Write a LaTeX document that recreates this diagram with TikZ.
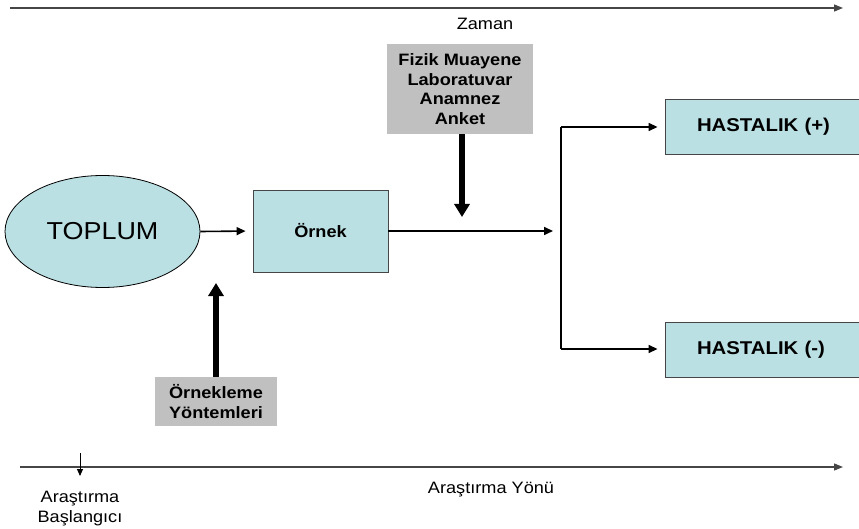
\documentclass[tikz,border=0pt]{standalone}
\usepackage{fontspec}
\setmainfont{Liberation Sans}[FakeStretch=1.1]
\usetikzlibrary{arrows.meta,shapes.geometric}
\definecolor{boxcyan}{RGB}{186,224,227}
\definecolor{boxgray}{RGB}{192,192,192}
\definecolor{edgegray}{RGB}{70,70,70}
\tikzset{
  cyanbox/.style={draw=edgegray, line width=0.9pt, fill=boxcyan, rectangle, inner sep=0pt},
  graybox/.style={fill=boxgray, rectangle, inner sep=0pt, align=center,
    font=\fontsize{16.5}{19.5}\selectfont\bfseries},
  smalltext/.style={font=\fontsize{16.5}{20}\selectfont, align=center},
  thinarrow/.style={line width=1.6pt, -{Triangle[length=9pt,width=8pt]}},
  thickarrow/.style={line width=5.5pt, -{Triangle[length=13pt,width=15pt]}},
  axis/.style={draw=edgegray, line width=1.3pt, -{Triangle[length=9pt,width=7pt]}}
}
\begin{document}
\begin{tikzpicture}[x=1pt,y=-1pt]
\clip (0,0) rectangle (859,529);
\fill[white] (0,0) rectangle (859,529);

% time axes
\coordinate (t0) at (10,8);
\coordinate (t1) at (843,8);
\draw[axis] (t0) -- (t1);
\node[smalltext] (zaman) at (485,24) {Zaman};

\coordinate (b0) at (20,467);
\coordinate (b1) at (843,467);
\draw[axis] (b0) -- (b1);
\node[smalltext] (yon) at (491,490) {Araştırma Yönü};
\coordinate (s0) at (80,453);
\coordinate (s1) at (80,476);
\draw[line width=1pt, -{Triangle[length=7pt,width=6pt]}] (s0) -- (s1);
\node[smalltext] (basla) at (80,509) {Araştırma\\Başlangıcı};

% population and sample
\node[ellipse, draw=black, line width=0.8pt, fill=boxcyan, minimum width=195pt, minimum height=112pt,
      font=\fontsize{24.5}{28}\selectfont] (toplum) at (102.5,231.5) {TOPLUM};
\node[cyanbox, minimum width=135pt, minimum height=82pt, font=\fontsize{16.5}{20}\selectfont\bfseries]
      (ornek) at (320.5,231) {Örnek};
\draw[thinarrow, shorten >=7pt] (toplum.east) -- (ornek.west);

% outcome boxes
\node[cyanbox, minimum width=200pt, minimum height=55pt, font=\fontsize{18.5}{22}\selectfont\bfseries,
      text width=170pt, align=left] (hplus) at (765,126.5) {\hspace*{17pt}HASTALIK (+)};
\node[cyanbox, minimum width=200pt, minimum height=55pt, font=\fontsize{18.5}{22}\selectfont\bfseries,
      text width=170pt, align=left] (hminus) at (765,349.5) {\hspace*{17pt}HASTALIK (-)};

\coordinate (split) at (553,231);
\draw[thinarrow] (ornek.east) -- (split);
\coordinate (bt) at (561,127);
\coordinate (bb) at (561,349);
\draw[line width=1.6pt] (bt) -- (bb);
\draw[thinarrow, shorten >=7pt] (bt) -- (hplus.west |- bt);
\draw[thinarrow, shorten >=7pt] (bb) -- (hminus.west |- bb);

% measurement and sampling inputs
\node[graybox, minimum width=146pt, minimum height=90pt] (olcum) at (460,89)
  {Fizik Muayene\\Laboratuvar\\Anamnez\\Anket};
\coordinate (olcumuc) at (462,217);
\draw[thickarrow] (olcum.south -| olcumuc) -- (olcumuc);

\node[graybox, minimum width=122pt, minimum height=49pt] (yontem) at (216,401.5)
  {Örnekleme\\Yöntemleri};
\coordinate (yontemuc) at (216,283);
\draw[thickarrow] (yontem.north) -- (yontemuc);
\end{tikzpicture}
\end{document}
